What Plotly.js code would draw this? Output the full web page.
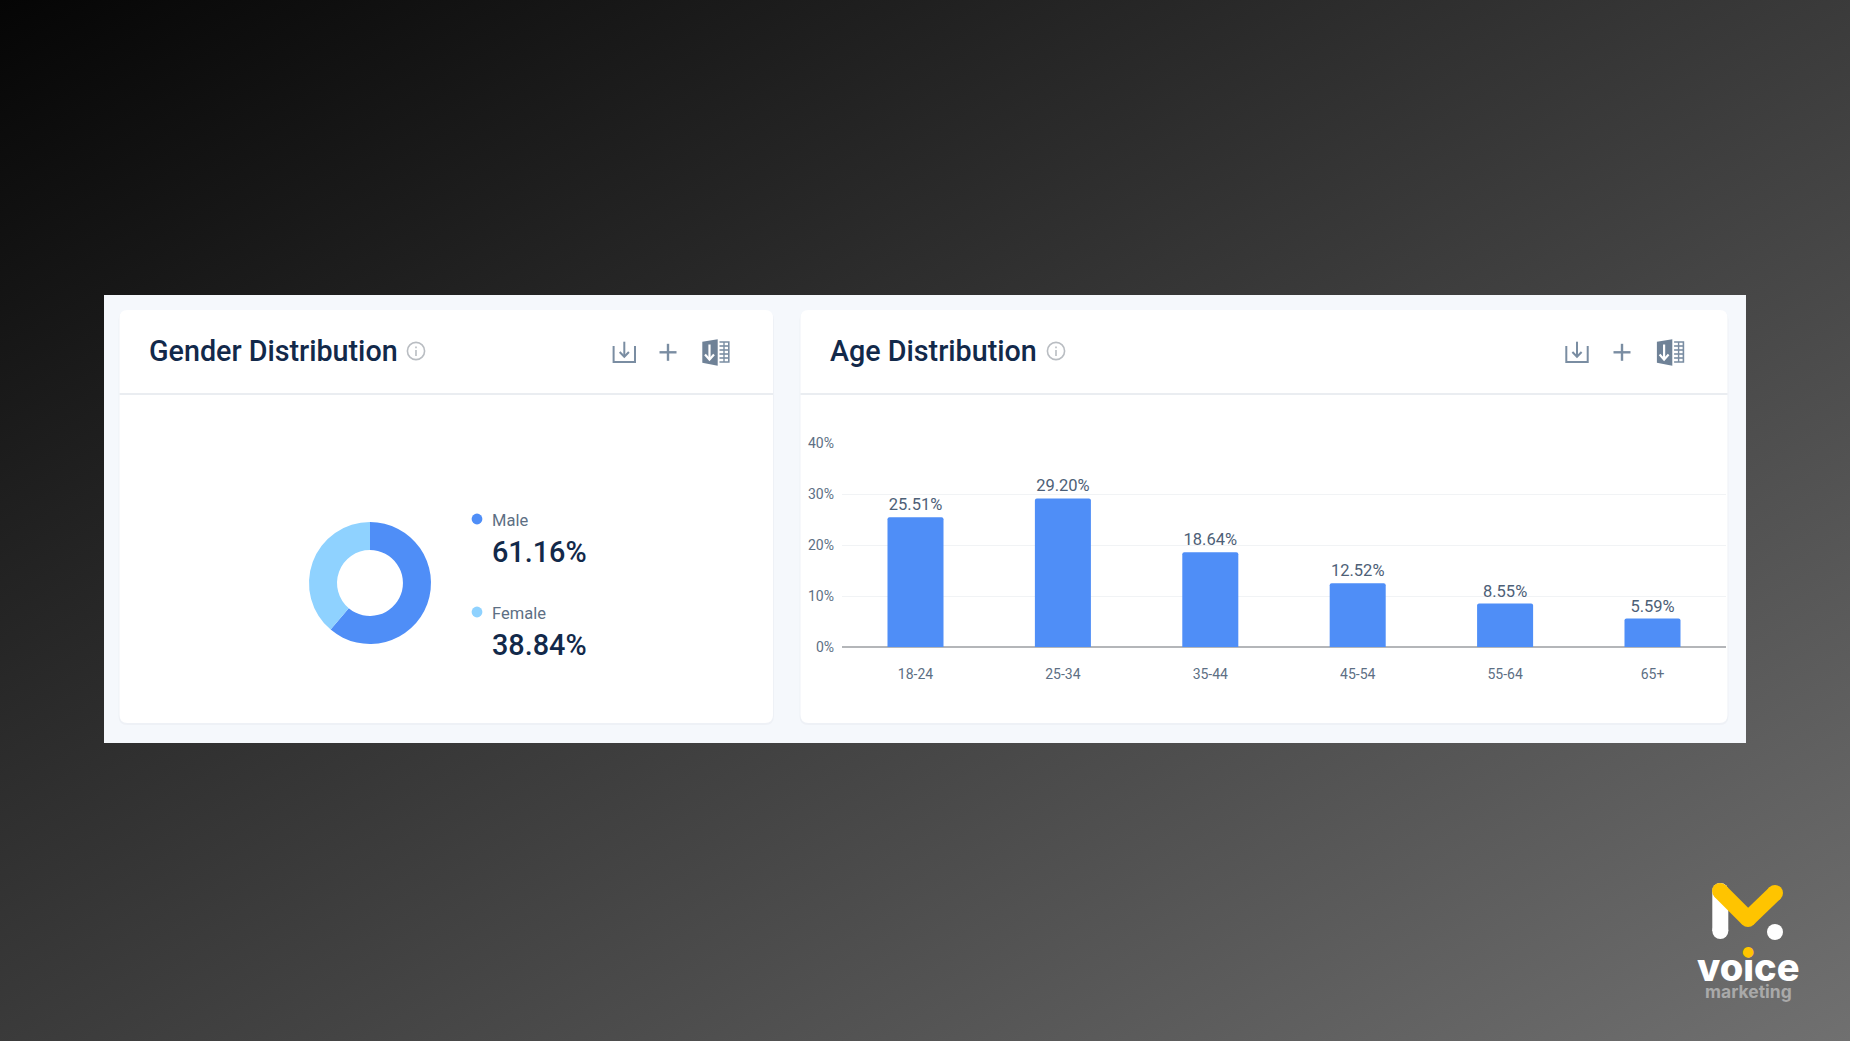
<!DOCTYPE html>
<html><head><meta charset="utf-8">
<script src="https://cdn.plot.ly/plotly-3.0.1.min.js"></script>
<style>
html,body{margin:0;padding:0;width:1850px;height:1041px;overflow:hidden;background:linear-gradient(to bottom right,#050505,#707070);}
#c{width:1850px;height:1041px;}
</style></head><body><div id="c"></div>
<script>
// ---- data ----
const genderLabels = ['Male','Female'];
const genderValues = [61.16,38.84];
const genderColors = ['#4f8ef7','#8fd2ff'];
const ageCategories = ['18-24','25-34','35-44','45-54','55-64','65+'];
const ageValues = [25.51,29.20,18.64,12.52,8.55,5.59];
const ageTicks = [0,10,20,30,40];
const titles = ['Gender Distribution','Age Distribution'];

// ---- helpers: page pixels to paper fractions ----
const W=1850,H=1041;
const X=p=>p/W, Y=p=>1-p/H;
const pt=(x,y)=>X(x).toFixed(5)+','+Y(y).toFixed(5);
function rr(x0,y0,x1,y1,r){
  return 'M'+pt(x0+r,y0)+' L'+pt(x1-r,y0)+' Q'+pt(x1,y0)+' '+pt(x1,y0+r)+
    ' L'+pt(x1,y1-r)+' Q'+pt(x1,y1)+' '+pt(x1-r,y1)+' L'+pt(x0+r,y1)+
    ' Q'+pt(x0,y1)+' '+pt(x0,y1-r)+' L'+pt(x0,y0+r)+' Q'+pt(x0,y0)+' '+pt(x0+r,y0)+' Z';
}
const shapes=[];
const NOL={width:0};
const fillPath=(d,c)=>shapes.push({type:'path',xref:'paper',yref:'paper',path:d,fillcolor:c,line:NOL,layer:'below'});
const poly=(pts,c)=>fillPath('M'+pts.map(p=>pt(p[0],p[1])).join(' L')+' Z',c);
const seg=(pts,c,w)=>shapes.push({type:'path',xref:'paper',yref:'paper',path:'M'+pts.map(p=>pt(p[0],p[1])).join(' L'),fillcolor:'rgba(0,0,0,0)',line:{color:c,width:w},layer:'below'});
const disc=(x,y,r,c,lc,lw)=>shapes.push({type:'circle',xref:'paper',yref:'paper',x0:X(x-r),x1:X(x+r),y0:Y(y+r),y1:Y(y-r),fillcolor:c,line:lc?{color:lc,width:lw}:NOL,layer:'below'});

// panels
poly([[104,295],[1746,295],[1746,743],[104,743]],'#f5f8fc');
[[119.5,773],[800.5,1727.5]].forEach(c=>{
  fillPath(rr(c[0]-1,311,c[1]+1,725,9),'#eef1f6');
  fillPath(rr(c[0],310,c[1],723,8),'#ffffff');
  seg([[c[0],394],[c[1],394]],'#e3e7ed',1.5);
});

// header icons
const ICON='#7a8da2';
function icons(dl,plus,book){
  seg([[dl-10.7,346],[dl-10.7,362],[dl+10.7,362],[dl+10.7,346]],ICON,2);
  seg([[dl,341.7],[dl,356.5]],ICON,2);
  seg([[dl-4.6,352],[dl,356.8],[dl+4.6,352]],ICON,2);
  seg([[plus-8.5,352.3],[plus+8.5,352.3]],ICON,2.4);
  seg([[plus,343.8],[plus,360.8]],ICON,2.4);
  const b=book-716;
  poly([[702.3+b,341.7],[717.7+b,339.3],[717.7+b,365.7],[702.3+b,362.7]],'#6f8297');
  seg([[709.5+b,344.5],[709.5+b,359]],'#ffffff',2.2);
  seg([[705+b,354.5],[709.5+b,359.5],[714+b,354.5]],'#ffffff',2.2);
  seg([[719.5+b,342],[728.8+b,342],[728.8+b,362],[719.5+b,362]],ICON,1.6);
  [346,350,354,358].forEach(y=>seg([[719.5+b,y],[728.8+b,y]],ICON,1.6));
  seg([[724+b,342],[724+b,362]],ICON,1.4);
}
icons(624.3,668,716);
icons(1577,1622,1670.6);

// info icons
[416,1056].forEach(x=>{
  disc(x,351,8.6,'rgba(0,0,0,0)','#b9bdc2',1.6);
  seg([[x,350],[x,356]],'#b9bdc2',1.6);
  seg([[x,346.4],[x,348.2]],'#b9bdc2',1.6);
});

// legend dots
disc(477,519,5.4,genderColors[0]);
disc(477,612,5.4,genderColors[1]);

// logo
const LY='#ffc400';
seg([[1720.3,891],[1720.3,931]],'#ffffff',16);
disc(1720.3,931,8,'#ffffff');
disc(1720.3,891,8,'#ffffff');
seg([[1720,891],[1748,919]],LY,16);
seg([[1748,919],[1775,893]],LY,16);
disc(1720,891,8,LY);disc(1748,919,8,LY);disc(1775,893,8,LY);
disc(1775,932,8,'#ffffff');

// text
const ROB='Roboto, sans-serif';
const ann=(x,y,t,size,col,weight,anchor,fam)=>({xref:'paper',yref:'paper',x:X(x),y:Y(y),text:t,showarrow:false,
  xanchor:anchor||'left',yanchor:'middle',font:{family:fam||ROB,size:size,color:col,weight:weight||400}});
const annotations=[
  ann(146.8,351,titles[0],28.7,'#12294a',500),
  ann(827.8,351,titles[1],28.7,'#12294a',500),
  ann(489.6,520,genderLabels[0],16.5,'#5d6f84'),
  ann(489.6,551.5,genderValues[0].toFixed(2)+'%',28.8,'#12294a',500),
  ann(489.6,613.5,genderLabels[1],16.5,'#5d6f84'),
  ann(489.6,644.5,genderValues[1].toFixed(2)+'%',28.8,'#12294a',500),
  ann(1748,967,'voice',38,'#ffffff',800,'center','Inter, sans-serif'),
  ann(1748,991,'marketing',17.5,'#a9a9a9',700,'center','Inter, sans-serif'),
  ann(1748,950.5,'●',14,LY,400,'center','DejaVu Sans'),
];

const traces=[
 {type:'pie',labels:genderLabels,values:genderValues,marker:{colors:genderColors,line:{width:0}},
  hole:0.54,sort:false,direction:'clockwise',rotation:0,textinfo:'none',showlegend:false,hoverinfo:'skip',
  domain:{x:[X(370-61),X(370+61)],y:[Y(583+61),Y(583-61)]}},
 {type:'bar',x:ageCategories,y:ageValues,marker:{color:'#4f8ef7',cornerradius:2},width:0.38,
  text:ageValues.map(v=>v.toFixed(2)+'%'),textposition:'outside',cliponaxis:false,constraintext:'none',
  textfont:{family:ROB,size:16.5,color:'#4d6077'},hoverinfo:'skip',showlegend:false}
];
const layout={width:W,height:H,margin:{l:0,r:0,t:0,b:0,pad:0},paper_bgcolor:'rgba(0,0,0,0)',plot_bgcolor:'rgba(0,0,0,0)',
  showlegend:false,hovermode:false,shapes:shapes,annotations:annotations,
  xaxis:{domain:[X(841.8),X(1726.2)],range:[-0.5,5.5],type:'category',showgrid:false,zeroline:false,showline:false,ticks:'',
    ticklabelstandoff:17,tickfont:{family:ROB,size:14,color:'#5d6f84'},fixedrange:true},
  yaxis:{domain:[Y(647),Y(443.5)],range:[0,40],tickvals:ageTicks,ticktext:ageTicks.map(t=>t+'%'),showgrid:true,gridcolor:'#f1f3f5',gridwidth:1.2,
    zeroline:true,zerolinecolor:'#b4b6b9',zerolinewidth:2,showline:false,ticks:'outside',ticklen:4,tickcolor:'rgba(0,0,0,0)',tickfont:{family:ROB,size:14,color:'#5d6f84'},fixedrange:true}
};
Plotly.newPlot('c',traces,layout,{displayModeBar:false,staticPlot:true});
</script></body></html>
